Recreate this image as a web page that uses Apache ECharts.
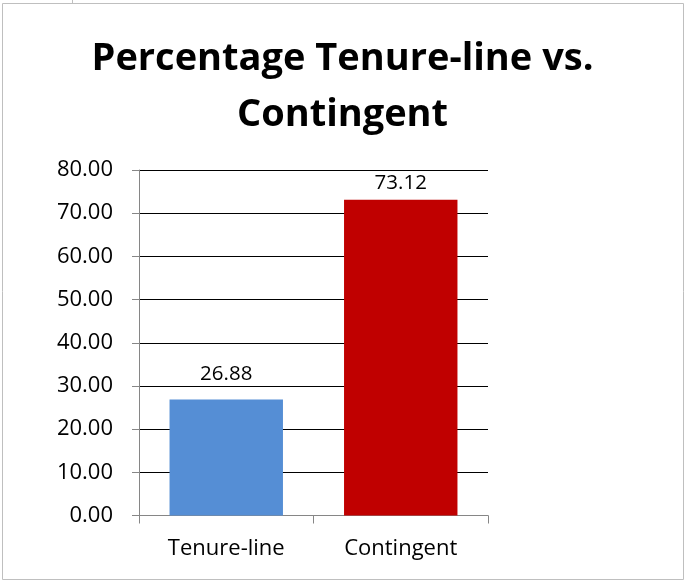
<!DOCTYPE html>
<html>
<head>
<meta charset="utf-8">
<script src="https://cdn.jsdelivr.net/npm/echarts@6/dist/echarts.min.js"></script>
<style>html,body{margin:0;padding:0;background:#fff}#c{width:685px;height:581px}</style>
</head>
<body>
<div id="c"></div>
<script>
var titleText = 'Percentage Tenure-line vs.\nContingent';
var categories = ['Tenure-line', 'Contingent'];
var values = [26.88, 73.12];
var barColors = ['#558ED5', '#C00000'];
var labelDistances = [15, 6];
var yTicks = { min: 0, max: 80, interval: 10 };

var FONT = '"Open Sans", "Noto Sans", sans-serif';
var chart = echarts.init(document.getElementById('c'));
chart.setOption({
  animation: false,
  backgroundColor: '#fff',
  title: {
    text: titleText,
    left: 'center',
    top: 26,
    textStyle: { fontFamily: FONT, fontWeight: 'bold', fontSize: 38, color: '#000', lineHeight: 56 }
  },
  graphic: [
    { type: 'rect', shape: { x: 2.5, y: 3.5, width: 681, height: 576 }, style: { fill: 'none', stroke: '#BFBFBF', lineWidth: 1 }, silent: true },
    { type: 'line', shape: { x1: 72.5, y1: 0, x2: 72.5, y2: 3 }, style: { stroke: '#BFBFBF', lineWidth: 1 }, silent: true }
  ],
  grid: { left: 139, right: 197, top: 170, bottom: 65.5, containLabel: false },
  xAxis: {
    type: 'category',
    data: categories,
    axisLine: { lineStyle: { color: '#868686', width: 1 } },
    axisTick: { show: true, length: 8, alignWithLabel: false, lineStyle: { color: '#868686' } },
    axisLabel: { margin: 22, color: '#000', fontFamily: FONT, fontSize: 22 }
  },
  yAxis: {
    type: 'value',
    min: yTicks.min, max: yTicks.max, interval: yTicks.interval,
    axisLine: { show: true, lineStyle: { color: '#868686', width: 1 } },
    axisTick: { show: true, length: 7, lineStyle: { color: '#868686' } },
    axisLabel: { margin: 26, color: '#000', fontFamily: FONT, fontSize: 22, formatter: function (v) { return v.toFixed(2); } },
    splitLine: { show: true, lineStyle: { color: '#000', width: 1 } }
  },
  series: [{
    type: 'bar',
    barCategoryGap: '35%',
    data: values.map(function (v, i) {
      return {
        value: v,
        itemStyle: { color: barColors[i] },
        label: { distance: labelDistances[i] }
      };
    }),
    label: {
      show: true,
      position: 'top',
      color: '#000',
      fontFamily: FONT,
      fontSize: 20.5,
      formatter: function (p) { return p.value.toFixed(2); }
    }
  }]
});
</script>
</body>
</html>
